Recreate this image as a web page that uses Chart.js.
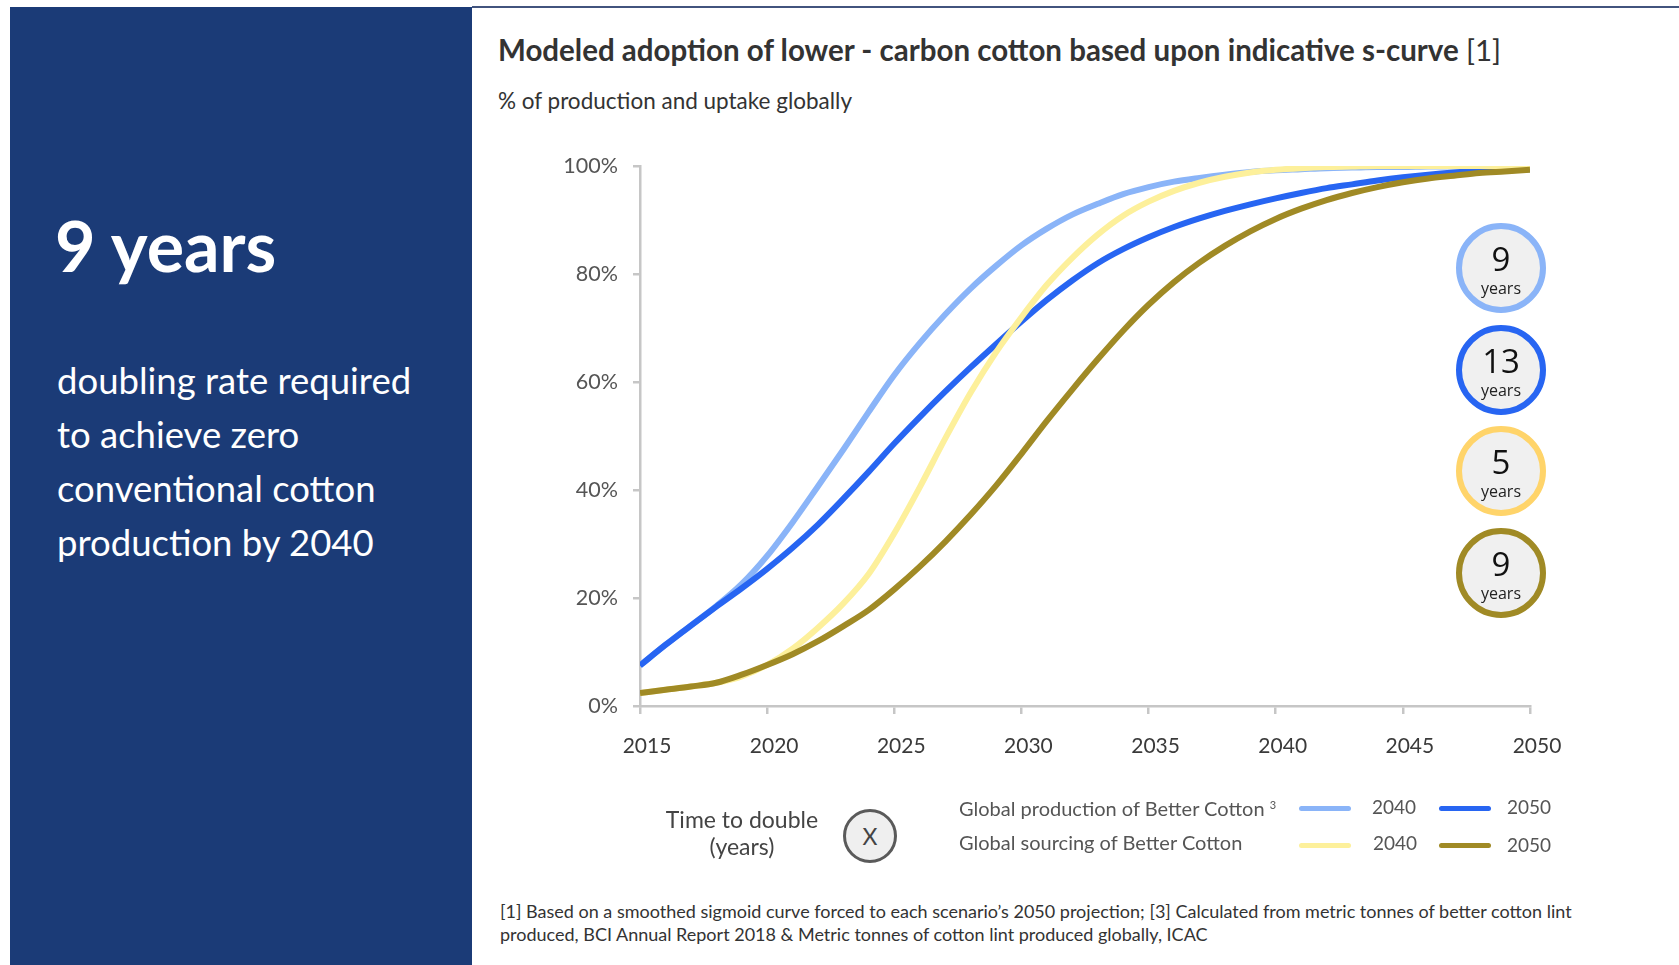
<!DOCTYPE html>
<html>
<head>
<meta charset="utf-8">
<title>Modeled adoption of lower-carbon cotton</title>
<script src="https://cdn.jsdelivr.net/npm/chart.js@4.4.1/dist/chart.umd.min.js"></script>
<style>
  html, body { margin: 0; padding: 0; background: #fff; }
  body { width: 1679px; height: 965px; position: relative; overflow: hidden; font-family: Lato, "Open Sans", sans-serif; }
  .abs { position: absolute; white-space: nowrap; }

  #side { position: absolute; left: 10px; top: 7px; width: 462px; height: 958px; background: #1b3b77; }
  #topRule { position: absolute; left: 472px; top: 6px; width: 1207px; height: 2px; background: #42547e; }
  #headline { left: 55px; top: 203px; font-size: 70px; font-weight: 700; line-height: 1.2; color: #fff; }
  #blurb { left: 57px; top: 353px; font-size: 36.5px; line-height: 54px; color: #fff; }

  #title { left: 498px; top: 32px; font-size: 29.5px; font-weight: 700; line-height: 36px; color: #333; }
  #title span { font-weight: 400; }
  #subtitle { left: 498px; top: 87px; font-size: 22.5px; line-height: 27px; color: #333; }

  #adoption { position: absolute; left: 500px; top: 130px; }

  .badge { position: absolute; width: 78px; height: 78px; border-radius: 50%; border: 6px solid; background: #f0f0f0; text-align: center; color: #111; font-family: "Open Sans", sans-serif; }
  .badge b { display: block; font-weight: 400; font-size: 33px; line-height: 36px; margin-top: 12px; }
  .badge i { display: block; font-style: normal; font-size: 16px; line-height: 18px; margin-top: 2px; color: #222; }

  #doubleLabel { left: 652px; top: 806px; width: 180px; text-align: center; font-size: 23px; line-height: 27px; color: #444; }
  #xBadge { position: absolute; left: 843px; top: 809px; width: 48px; height: 48px; border-radius: 50%; border: 3px solid #5a5a5a; background: #efefef; text-align: center; line-height: 48px; font-size: 23px; color: #444; }

  .legText { font-size: 20px; line-height: 24px; color: #555; }
  .legYear { font-size: 19px; line-height: 24px; color: #555; }
  .legText sup { font-size: 11px; vertical-align: 7px; }
  .swatch { position: absolute; width: 52px; height: 5px; border-radius: 3px; }

  #notes { left: 500px; top: 900px; font-size: 18px; line-height: 23px; color: #333; }
</style>
</head>
<body>
<div id="side"></div>
<div id="topRule"></div>
<div id="headline" class="abs">9 years</div>
<div id="blurb" class="abs">doubling rate required<br>to achieve zero<br>conventional cotton<br>production by 2040</div>

<div id="title" class="abs">Modeled adoption of lower - carbon cotton based upon indicative s-curve <span>[1]</span></div>
<div id="subtitle" class="abs">% of production and uptake globally</div>

<canvas id="adoption" width="1100" height="680"></canvas>

<div id="badges"></div>

<div id="doubleLabel" class="abs">Time to double<br>(years)</div>
<div id="xBadge">X</div>

<div class="abs legText" style="left:959px; top:793px;">Global production of Better Cotton <sup>3</sup></div>
<div class="abs legText" style="left:959px; top:830px;">Global sourcing of Better Cotton</div>
<div class="swatch" style="left:1299px; top:806px; background:#8ab4f8;"></div>
<div class="swatch" style="left:1439px; top:806px; background:#2765f2;"></div>
<div class="swatch" style="left:1299px; top:843px; background:#fdf09b;"></div>
<div class="swatch" style="left:1439px; top:843px; background:#a08a25;"></div>
<div class="abs legYear" style="left:1372px; top:795px;">2040</div>
<div class="abs legYear" style="left:1507px; top:795px;">2050</div>
<div class="abs legYear" style="left:1373px; top:831px;">2040</div>
<div class="abs legYear" style="left:1507px; top:833px;">2050</div>

<div id="notes" class="abs">[1] Based on a smoothed sigmoid curve forced to each scenario’s 2050 projection; [3] Calculated from metric tonnes of better cotton lint<br>produced, BCI Annual Report 2018 &amp; Metric tonnes of cotton lint produced globally, ICAC</div>

<script>
// Share of global cotton (%) per year under each scenario
const years = [2015, 2016, 2017, 2018, 2019, 2020, 2021, 2022, 2023, 2024, 2025, 2026,
  2027, 2028, 2029, 2030, 2031, 2032, 2033, 2034, 2035, 2036, 2037, 2038,
  2039, 2040, 2041, 2042, 2043, 2044, 2045, 2046, 2047, 2048, 2049, 2050];

const productionBy2040 = [7.5, 11.3, 14.9, 18.5, 22.6, 27.8, 34, 40.7, 47.5, 54.5, 61.3, 67.2,
  72.5, 77.3, 81.5, 85.3, 88.4, 91, 93, 94.8, 96.1, 97.1, 97.8, 98.4,
  98.9, 99.2, 99.4, 99.6, 99.7, 99.8, 99.8, 99.9, 99.9, 99.9, 99.9, 99.9];

const productionBy2050 = [7.5, 11.3, 14.9, 18.4, 21.8, 25.4, 29.3, 33.6, 38.4, 43.4, 48.6, 53.5,
  58.2, 62.7, 67, 71.2, 75.2, 78.8, 82, 84.6, 86.8, 88.7, 90.3, 91.7,
  92.9, 94, 95, 95.9, 96.6, 97.3, 97.9, 98.4, 98.8, 99.1, 99.3, 99.4];

const sourcingBy2040 = [2.4, 3, 3.6, 4.3, 5.5, 7.6, 10.6, 14.5, 19, 24.5, 32, 40.5,
  49.5, 58, 65.5, 72, 78, 83, 87.3, 90.8, 93.4, 95.4, 96.9, 98,
  98.8, 99.3, 99.6, 99.8, 99.9, 100, 100, 100, 100, 100, 100, 100];

const sourcingBy2050 = [2.4, 3, 3.6, 4.3, 5.8, 7.6, 9.6, 12, 14.8, 17.8, 21.6, 25.8,
  30.4, 35.4, 40.8, 46.7, 52.8, 58.6, 64.2, 69.5, 74.3, 78.5, 82.1, 85.2,
  87.9, 90.2, 92.1, 93.7, 95, 96.1, 97, 97.7, 98.2, 98.7, 99, 99.3];

const yTicks = [0, 20, 40, 60, 80, 100];
const xTicks = [2015, 2020, 2025, 2030, 2035, 2040, 2045, 2050];

// Doubling time (years) for each scenario, shown in the ring badges
const doublingLabels = ['2040 production', '2050 production', '2040 sourcing', '2050 sourcing'];
const doublingYears = [9, 13, 5, 9];

const LIGHT_BLUE = '#8ab4f8';
const DARK_BLUE = '#2765f2';
const PALE_YELLOW = '#fdf09b';
const GOLD = '#ffd46a';
const OLIVE = '#a08a25';
const AXIS_GREY = '#c6c6c6';

Chart.defaults.font.family = 'Lato, "Open Sans", sans-serif';

function series(label, values, color) {
  return {
    label,
    data: years.map((x, i) => ({ x, y: values[i] })),
    borderColor: color,
    borderWidth: 6,
    pointRadius: 0,
    fill: false,
    cubicInterpolationMode: 'monotone'
  };
}

// first dataset is painted on top
const datasets = [
  series('Global sourcing of Better Cotton 2050', sourcingBy2050, OLIVE),
  series('Global sourcing of Better Cotton 2040', sourcingBy2040, PALE_YELLOW),
  series('Global production of Better Cotton 2050', productionBy2050, DARK_BLUE),
  series('Global production of Better Cotton 2040', productionBy2040, LIGHT_BLUE)
];

new Chart(document.getElementById('adoption').getContext('2d'), {
  type: 'line',
  data: { datasets },
  options: {
    responsive: false,
    animation: false,
    layout: { padding: { top: 36, right: 70, bottom: 0, left: 0 }, autoPadding: false },
    plugins: { legend: { display: false }, tooltip: { enabled: false } },
    scales: {
      x: {
        type: 'linear',
        min: xTicks[0],
        max: xTicks[xTicks.length - 1],
        afterBuildTicks: (scale) => { scale.ticks = xTicks.map(value => ({ value })); },
        afterFit: (scale) => { scale.height = 104; },
        ticks: {
          callback: (value) => String(value),
          padding: 20,
          labelOffset: 7,
          color: '#3a3a3a',
          font: { size: 21 }
        },
        grid: { drawOnChartArea: false, tickLength: 8, color: AXIS_GREY, lineWidth: 2.5 },
        border: { color: AXIS_GREY, width: 2.5 }
      },
      y: {
        min: 0,
        max: 100,
        afterBuildTicks: (scale) => { scale.ticks = yTicks.map(value => ({ value })); },
        afterFit: (scale) => { scale.width = 140; },
        ticks: {
          callback: (value) => value + '%',
          padding: 15,
          color: '#555',
          font: { size: 21.5 }
        },
        grid: { drawOnChartArea: false, tickLength: 7, color: AXIS_GREY, lineWidth: 2.5 },
        border: { color: AXIS_GREY, width: 2.5 }
      }
    }
  }
});

// ring badges down the right-hand side
const ringColors = [LIGHT_BLUE, DARK_BLUE, GOLD, OLIVE];
const holder = document.getElementById('badges');
doublingYears.forEach((n, i) => {
  const el = document.createElement('div');
  el.className = 'badge';
  el.title = doublingLabels[i];
  el.style.left = (1501 - 45) + 'px';
  el.style.top = (268 + i * 101.7 - 45) + 'px';
  el.style.borderColor = ringColors[i];
  el.innerHTML = '<b>' + n + '</b><i>years</i>';
  holder.appendChild(el);
});
</script>
</body>
</html>
